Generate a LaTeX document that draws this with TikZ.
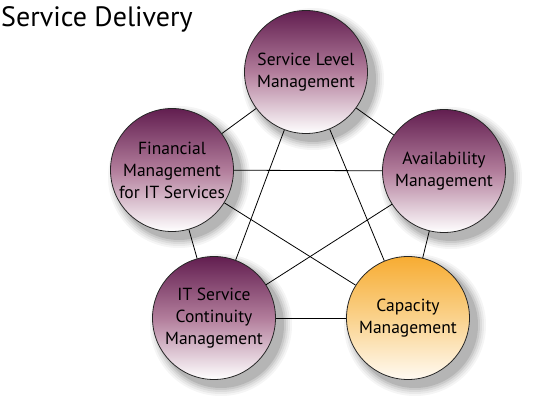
\documentclass[tikz,border=0pt]{standalone}
\usepackage{fontspec}
\setmainfont{PT Sans}
\begin{document}
\begin{tikzpicture}[x=1pt,y=-1pt,
  proc/.style={circle, draw=black!85, line width=0.8pt, minimum size=123pt, inner sep=0pt,
    align=center, font=\fontsize{17.5}{22}\selectfont, text=black},
  purp/.style={proc, top color=ptop, bottom color=white, middle color=pmid},
  orng/.style={proc, top color=otop, bottom color=obot, middle color=omid},
  link/.style={draw=black, line width=0.8pt}]
\definecolor{ptop}{RGB}{98,30,80}
\definecolor{pmid}{RGB}{178,125,155}
\definecolor{otop}{RGB}{247,172,50}
\definecolor{omid}{RGB}{250,210,140}
\definecolor{obot}{RGB}{255,250,242}
\useasboundingbox (0,0) rectangle (536,407);
% shadows
\foreach \cx/\cy in {306/72, 444/171, 408/318, 214/318, 172/170}{
  \foreach \r/\o in {71/0.04, 69/0.05, 67/0.06, 65/0.08, 63/0.10}{
    \fill[black, opacity=\o] (\cx+7,\cy+7) circle[radius=\r];
  }
}
\node[anchor=base west, inner sep=0pt, font=\fontsize{28}{32}\selectfont] (title) at (1,26) {Service Delivery};
\node[purp] (slm) at (306,72) {Service Level\\Management};
\node[purp] (am) at (444,171) {Availability\\Management};
\node[orng] (cm) at (408,318) {Capacity\\Management};
\node[purp] (itscm) at (214,318) {IT Service\\Continuity\\Management};
\node[purp] (fm) at (172,170) {Financial\\Management\\for IT Services};
\draw[link] (slm) -- (am);
\draw[link] (slm) -- (cm);
\draw[link] (slm) -- (itscm);
\draw[link] (slm) -- (fm);
\draw[link] (am) -- (cm);
\draw[link] (am) -- (itscm);
\draw[link] (am) -- (fm);
\draw[link] (cm) -- (itscm);
\draw[link] (cm) -- (fm);
\draw[link] (itscm) -- (fm);
\end{tikzpicture}
\end{document}
